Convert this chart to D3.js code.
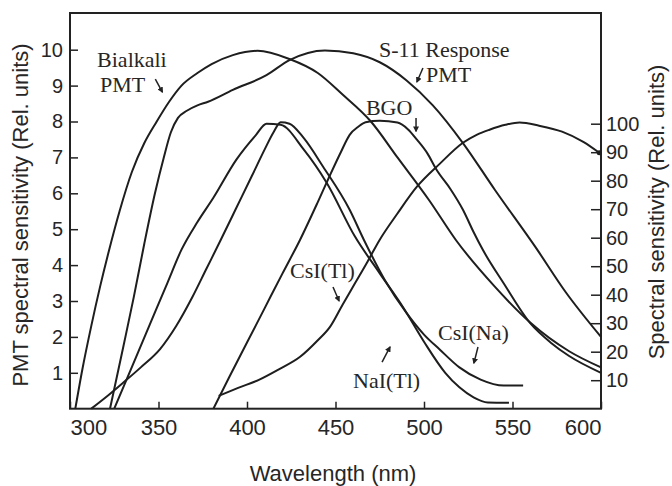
<!DOCTYPE html>
<html>
<head>
<meta charset="utf-8">
<script src="https://cdn.jsdelivr.net/npm/d3@7"></script>
<style>
  body { margin: 0; background: #fff; }
  svg { display: block; }
  .tick line { stroke: #222; stroke-width: 1.5; }
  .tick text { font-family: "Liberation Sans", Arial, sans-serif; fill: #262626; }
  .axis-title { font-family: "Liberation Sans", Arial, sans-serif; font-size: 22px; fill: #262626; }
  .note { font-family: "Liberation Serif", "Times New Roman", serif; font-size: 22px; fill: #262626; }
</style>
</head>
<body>
<div class="content"></div>
<script>
// Define SVG area dimensions
var svgWidth = 672;
var svgHeight = 486;

var margin = { top: 13, right: 71, bottom: 77.3, left: 70 };

var width = svgWidth - margin.left - margin.right;
var height = svgHeight - margin.top - margin.bottom;

// Tick values
var wavelengthTicks = [300, 350, 400, 450, 500, 550, 600];
var pmtTicks = [1, 2, 3, 4, 5, 6, 7, 8, 9, 10];
var relTicks = [10, 20, 30, 40, 50, 60, 70, 80, 90, 100];

// PMT spectral sensitivity (left axis)
var bialkaliNm = [303, 307, 312, 317, 322, 328, 335, 342, 349, 356, 363, 372, 380, 392, 406, 424, 440, 454, 470, 485, 503, 518, 540, 560, 582, 600];
var bialkaliSens = [0, 1.1, 2.3, 3.4, 4.4, 5.5, 6.6, 7.4, 8.0, 8.55, 9.0, 9.35, 9.6, 9.85, 9.97, 9.74, 9.35, 8.75, 8.0, 7.0, 5.8, 4.7, 3.4, 2.4, 1.6, 1.15];

var s11Nm = [322.6, 330, 336, 342, 348, 353, 357, 361, 366, 372, 378, 392, 411, 424, 444, 460, 475, 490, 505, 522, 540, 563, 580, 600];
var s11Sens = [0, 1.7, 3.1, 4.6, 6.0, 7.0, 7.7, 8.1, 8.3, 8.45, 8.55, 8.88, 9.29, 9.71, 9.98, 9.9, 9.65, 9.15, 8.45, 7.4, 6.1, 4.5, 3.25, 2.0];

// Scintillator emission (right axis)
var naiNm = [325, 335, 345, 355, 363, 372, 381, 394, 405, 411, 419, 432, 445, 461, 475, 488, 500, 512, 520, 528, 536, 548];
var naiEm = [0, 14.7, 29.4, 44.1, 55.8, 65.5, 74, 87.4, 96, 100, 99.6, 91, 79.3, 60.4, 47.5, 35.8, 23.5, 12.6, 7.5, 4, 2.2, 2.1];

var csnaNm = [312, 322, 330, 340, 351, 360, 369, 377, 385, 394, 403, 410, 415, 419, 424, 432, 443, 458, 466, 478, 490, 500, 509, 520, 532, 545, 556];
var csnaEm = [0, 4.9, 9.1, 14.5, 21, 29, 39, 49, 59, 70.5, 82, 91, 97, 100.5, 100, 95, 84.9, 69.8, 59.3, 45, 33.7, 26, 20.7, 14.5, 10.2, 8.1, 8.1];

var bgoNm = [381, 390, 400, 410, 420, 430, 440, 447, 453, 458, 463, 467, 475, 485, 491, 496, 502, 507, 515, 522, 528, 533, 545, 560, 572, 582, 600];
var bgoEm = [0, 11.1, 23.2, 35.3, 47.4, 59.3, 72.5, 82.1, 90, 96.1, 99, 100.5, 101, 100.4, 98, 94.4, 89.5, 83.9, 77, 69.8, 62, 56, 44, 30, 23, 18.5, 12.6];

var cstlNm = [384, 395, 407, 418, 430, 440, 447, 454, 461, 468, 475, 485, 496, 509, 522, 530, 537, 546, 554, 565, 578, 590, 599];
var cstlEm = [4.5, 7.3, 10.2, 13.8, 18.2, 24, 28.8, 36.5, 44, 51.5, 59.3, 68.5, 77.9, 86, 93.3, 96.2, 97.9, 99.6, 100.4, 99.3, 97.2, 93.6, 89.8];

// Curve labels in (wavelength, PMT units)
var noteText = ["Bialkali", "PMT", "S-11 Response", "PMT", "BGO", "CsI(Tl)", "CsI(Na)", "NaI(Tl)"];
var noteNm = [315.3, 316.9, 474.6, 501.1, 467.2, 424.3, 507.9, 459.9];
var noteVal = [9.51, 8.82, 9.79, 9.10, 8.18, 3.64, 1.91, 0.58];

// Pointer arrows: start -> head, in (wavelength, PMT units)
var arrowFrom = [[348.2, 9.18], [499.4, 9.49], [495.5, 8.10], [448.6, 3.39], [530.5, 1.72], [476.3, 1.30]];
var arrowTo = [[352.2, 8.82], [496.0, 9.10], [495.5, 7.73], [452.0, 3.00], [528.2, 1.27], [480.8, 1.72]];

var svg = d3.select(".content")
  .append("svg")
  .attr("width", svgWidth)
  .attr("height", svgHeight);

var chartGroup = svg.append("g")
  .attr("transform", `translate(${margin.left}, ${margin.top})`);

// scales
var xScale = d3.scaleLinear().domain([300, 600]).range([0, width]);
var yLeft = d3.scaleLinear().domain([0, height / 35.9]).range([height, 0]);
var yRight = d3.scaleLinear().domain([0, height / 2.85]).range([height, 0]);

// axes
var bottomAxis = d3.axisBottom(xScale)
  .tickValues(wavelengthTicks)
  .tickSizeInner(-7).tickSizeOuter(0).tickPadding(11);
var leftAxis = d3.axisLeft(yLeft)
  .tickValues(pmtTicks)
  .tickSizeInner(-8).tickSizeOuter(0).tickPadding(7);
var rightAxis = d3.axisRight(yRight)
  .tickValues(relTicks)
  .tickSizeInner(-10).tickSizeOuter(0).tickPadding(5);

var xAxisG = chartGroup.append("g")
  .attr("transform", `translate(0, ${height})`)
  .call(bottomAxis);
xAxisG.selectAll("text").style("font-size", "22px");
xAxisG.selectAll(".tick text")
  .attr("text-anchor", d => d === 300 ? "start" : (d === 600 ? "end" : "middle"));

var yAxisG = chartGroup.append("g").call(leftAxis);
yAxisG.selectAll("text").style("font-size", "20px");

var y2AxisG = chartGroup.append("g")
  .attr("transform", `translate(${width}, 0)`)
  .call(rightAxis);
y2AxisG.selectAll("text").style("font-size", "20px");

chartGroup.selectAll(".domain").remove();

// frame
chartGroup.append("rect")
  .attr("x", 0).attr("y", 0)
  .attr("width", width).attr("height", height)
  .attr("fill", "none")
  .attr("stroke", "#222")
  .attr("stroke-width", 2);

// curves
function toPoints(nm, vals) {
  return nm.map((d, i) => [d, vals[i]]);
}

var series = [
  { pts: toPoints(bialkaliNm, bialkaliSens), y: yLeft },
  { pts: toPoints(s11Nm, s11Sens), y: yLeft },
  { pts: toPoints(naiNm, naiEm), y: yRight },
  { pts: toPoints(csnaNm, csnaEm), y: yRight },
  { pts: toPoints(bgoNm, bgoEm), y: yRight },
  { pts: toPoints(cstlNm, cstlEm), y: yRight }
];

series.forEach(function(s) {
  var line = d3.line()
    .x(d => xScale(d[0]))
    .y(d => s.y(d[1]))
    .curve(d3.curveMonotoneX);
  chartGroup.append("path")
    .datum(s.pts)
    .attr("d", line)
    .attr("fill", "none")
    .attr("stroke", "#1e1e1e")
    .attr("stroke-width", 2)
    .attr("stroke-linejoin", "round");
});

// end dot on CsI(Tl)
chartGroup.append("circle")
  .attr("cx", xScale(cstlNm[cstlNm.length - 1]))
  .attr("cy", yRight(cstlEm[cstlEm.length - 1]))
  .attr("r", 2.5)
  .attr("fill", "#1e1e1e");

// labels
chartGroup.selectAll(".note")
  .data(noteText)
  .enter()
  .append("text")
  .attr("class", "note")
  .attr("x", (d, i) => xScale(noteNm[i]))
  .attr("y", (d, i) => yLeft(noteVal[i]))
  .text(d => d);

// arrowheads
svg.append("defs").append("marker")
  .attr("id", "head")
  .attr("viewBox", "0 0 10 10")
  .attr("refX", 8).attr("refY", 5)
  .attr("markerWidth", 6).attr("markerHeight", 6)
  .attr("markerUnits", "userSpaceOnUse")
  .attr("orient", "auto")
  .append("path")
  .attr("d", "M0,0 L10,5 L0,10 z")
  .attr("fill", "#222");

chartGroup.selectAll(".pointer")
  .data(arrowFrom)
  .enter()
  .append("line")
  .attr("class", "pointer")
  .attr("x1", d => xScale(d[0]))
  .attr("y1", d => yLeft(d[1]))
  .attr("x2", (d, i) => xScale(arrowTo[i][0]))
  .attr("y2", (d, i) => yLeft(arrowTo[i][1]))
  .attr("stroke", "#222")
  .attr("stroke-width", 1.5)
  .attr("marker-end", "url(#head)");

// axis titles
svg.append("text")
  .attr("class", "axis-title")
  .attr("text-anchor", "middle")
  .attr("transform", "translate(28, 215) rotate(-90)")
  .text("PMT spectral sensitivity (Rel. units)");

svg.append("text")
  .attr("class", "axis-title")
  .attr("text-anchor", "middle")
  .attr("transform", "translate(664, 212) rotate(-90)")
  .text("Spectral sensitivity (Rel. units)");

svg.append("text")
  .attr("class", "axis-title")
  .attr("text-anchor", "middle")
  .attr("x", 333)
  .attr("y", 481)
  .text("Wavelength (nm)");
</script>
</body>
</html>
